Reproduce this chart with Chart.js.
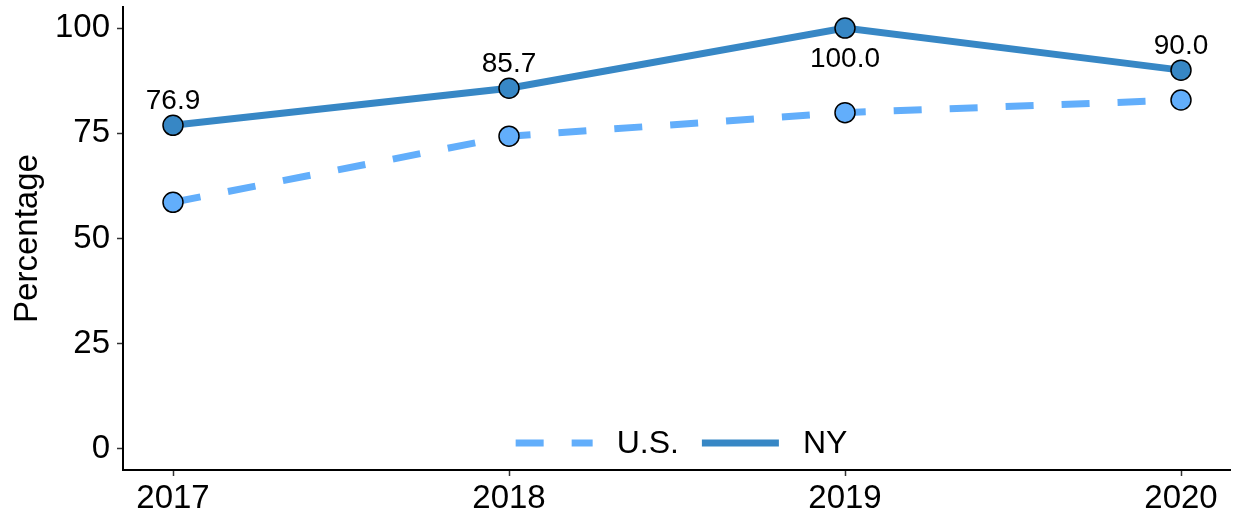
<!DOCTYPE html>
<html>
<head>
<meta charset="utf-8">
<script src="https://cdn.jsdelivr.net/npm/chart.js@4"></script>
<style>
  html, body { margin: 0; padding: 0; background: #fff; }
  #wrap { width: 1236px; height: 514px; }
</style>
</head>
<body>
<div id="wrap"><canvas id="myChart" width="1236" height="514"></canvas></div>
<script>
// ***** data *****
const years = [2017, 2018, 2019, 2020];
const usValues = [58.6, 74.3, 79.9, 82.9];
const nyValues = [76.9, 85.7, 100.0, 90.0];
const yTicks = [0, 25, 50, 75, 100];

const NY_COLOR = '#3787C5';
const US_COLOR = '#62AEFB';
const FONT = '"Liberation Sans", Arial, sans-serif';

// ***** value labels on NY points *****
const valueLabels = {
  id: 'valueLabels',
  afterDatasetsDraw(chart) {
    const ctx = chart.ctx;
    const meta = chart.getDatasetMeta(1);
    ctx.save();
    ctx.font = '28px ' + FONT;
    ctx.fillStyle = '#000';
    ctx.textAlign = 'center';
    ctx.textBaseline = 'middle';
    meta.data.forEach((pt, i) => {
      const v = nyValues[i];
      const dy = v >= 100 ? 31 : -24;
      ctx.fillText(v.toFixed(1), pt.x, pt.y + dy);
    });
    ctx.restore();
  }
};

// ***** legend inside plot, bottom centre *****
const innerLegend = {
  id: 'innerLegend',
  afterDraw(chart) {
    const ctx = chart.ctx;
    const area = chart.chartArea;
    const items = chart.data.datasets;
    const sample = 77, gapText = 24, gapItem = 23;
    ctx.save();
    ctx.font = '32px ' + FONT;
    let total = 0;
    items.forEach((d, i) => {
      total += sample + gapText + ctx.measureText(d.label).width;
      if (i < items.length - 1) total += gapItem;
    });
    let x = (area.left + area.right) / 2 - total / 2 + 5;
    const y = 443;
    items.forEach(d => {
      ctx.beginPath();
      ctx.lineWidth = d.borderWidth;
      ctx.strokeStyle = d.borderColor;
      ctx.setLineDash(d.borderDash || []);
      ctx.lineCap = 'butt';
      ctx.moveTo(x, y);
      ctx.lineTo(x + sample, y);
      ctx.stroke();
      ctx.setLineDash([]);
      x += sample + gapText;
      ctx.fillStyle = '#000';
      ctx.textAlign = 'left';
      ctx.textBaseline = 'middle';
      ctx.fillText(d.label, x, y + 1);
      x += ctx.measureText(d.label).width + gapItem;
    });
    ctx.restore();
  }
};

const ctx = document.getElementById('myChart');
new Chart(ctx, {
  type: 'line',
  data: {
    datasets: [
      {
        label: 'U.S.',
        data: years.map((y, i) => ({ x: y, y: usValues[i] })),
        borderColor: US_COLOR,
        backgroundColor: US_COLOR,
        borderWidth: 7,
        borderDash: [28, 28],
        pointRadius: 10,
        pointBorderWidth: 1.5,
        pointBorderColor: '#000',
        pointBackgroundColor: US_COLOR,
        tension: 0
      },
      {
        label: 'NY',
        data: years.map((y, i) => ({ x: y, y: nyValues[i] })),
        borderColor: NY_COLOR,
        backgroundColor: NY_COLOR,
        borderWidth: 7,
        pointRadius: 10,
        pointBorderWidth: 1.5,
        pointBorderColor: '#000',
        pointBackgroundColor: NY_COLOR,
        tension: 0
      }
    ]
  },
  options: {
    responsive: false,
    animation: false,
    layout: { autoPadding: false, padding: { left: 0, top: 7, right: 6, bottom: 0 } },
    plugins: {
      legend: { display: false },
      tooltip: { enabled: false }
    },
    scales: {
      x: {
        type: 'linear',
        min: 2017 - 50 / 336,
        max: 2020 + 49 / 336,
        afterBuildTicks: s => { s.ticks = years.map(v => ({ value: v })); },
        afterFit: s => { s.height = 44; s.paddingLeft = 0; s.paddingRight = 0; },
        grid: { drawOnChartArea: false, drawTicks: true, tickLength: 6, tickColor: '#333', tickWidth: 1.5 },
        border: { display: true, color: '#000', width: 2 },
        ticks: {
          autoSkip: false,
          maxRotation: 0,
          padding: 3,
          color: '#000',
          font: { family: FONT, size: 33 },
          callback: v => String(v)
        }
      },
      y: {
        min: -5,
        max: 105,
        afterBuildTicks: s => { s.ticks = yTicks.map(v => ({ value: v })); },
        afterFit: s => { s.width = 123; s.paddingTop = 0; s.paddingBottom = 0; },
        grid: { drawOnChartArea: false, drawTicks: true, tickLength: 6, tickColor: '#333', tickWidth: 1.5 },
        border: { display: true, color: '#000', width: 2 },
        ticks: {
          padding: 7,
          color: '#000',
          font: { family: FONT, size: 33 }
        },
        title: {
          display: true,
          text: 'Percentage',
          color: '#000',
          font: { family: FONT, size: 33 },
          padding: { top: 8, bottom: 0 }
        }
      }
    }
  },
  plugins: [valueLabels, innerLegend]
});
</script>
</body>
</html>
